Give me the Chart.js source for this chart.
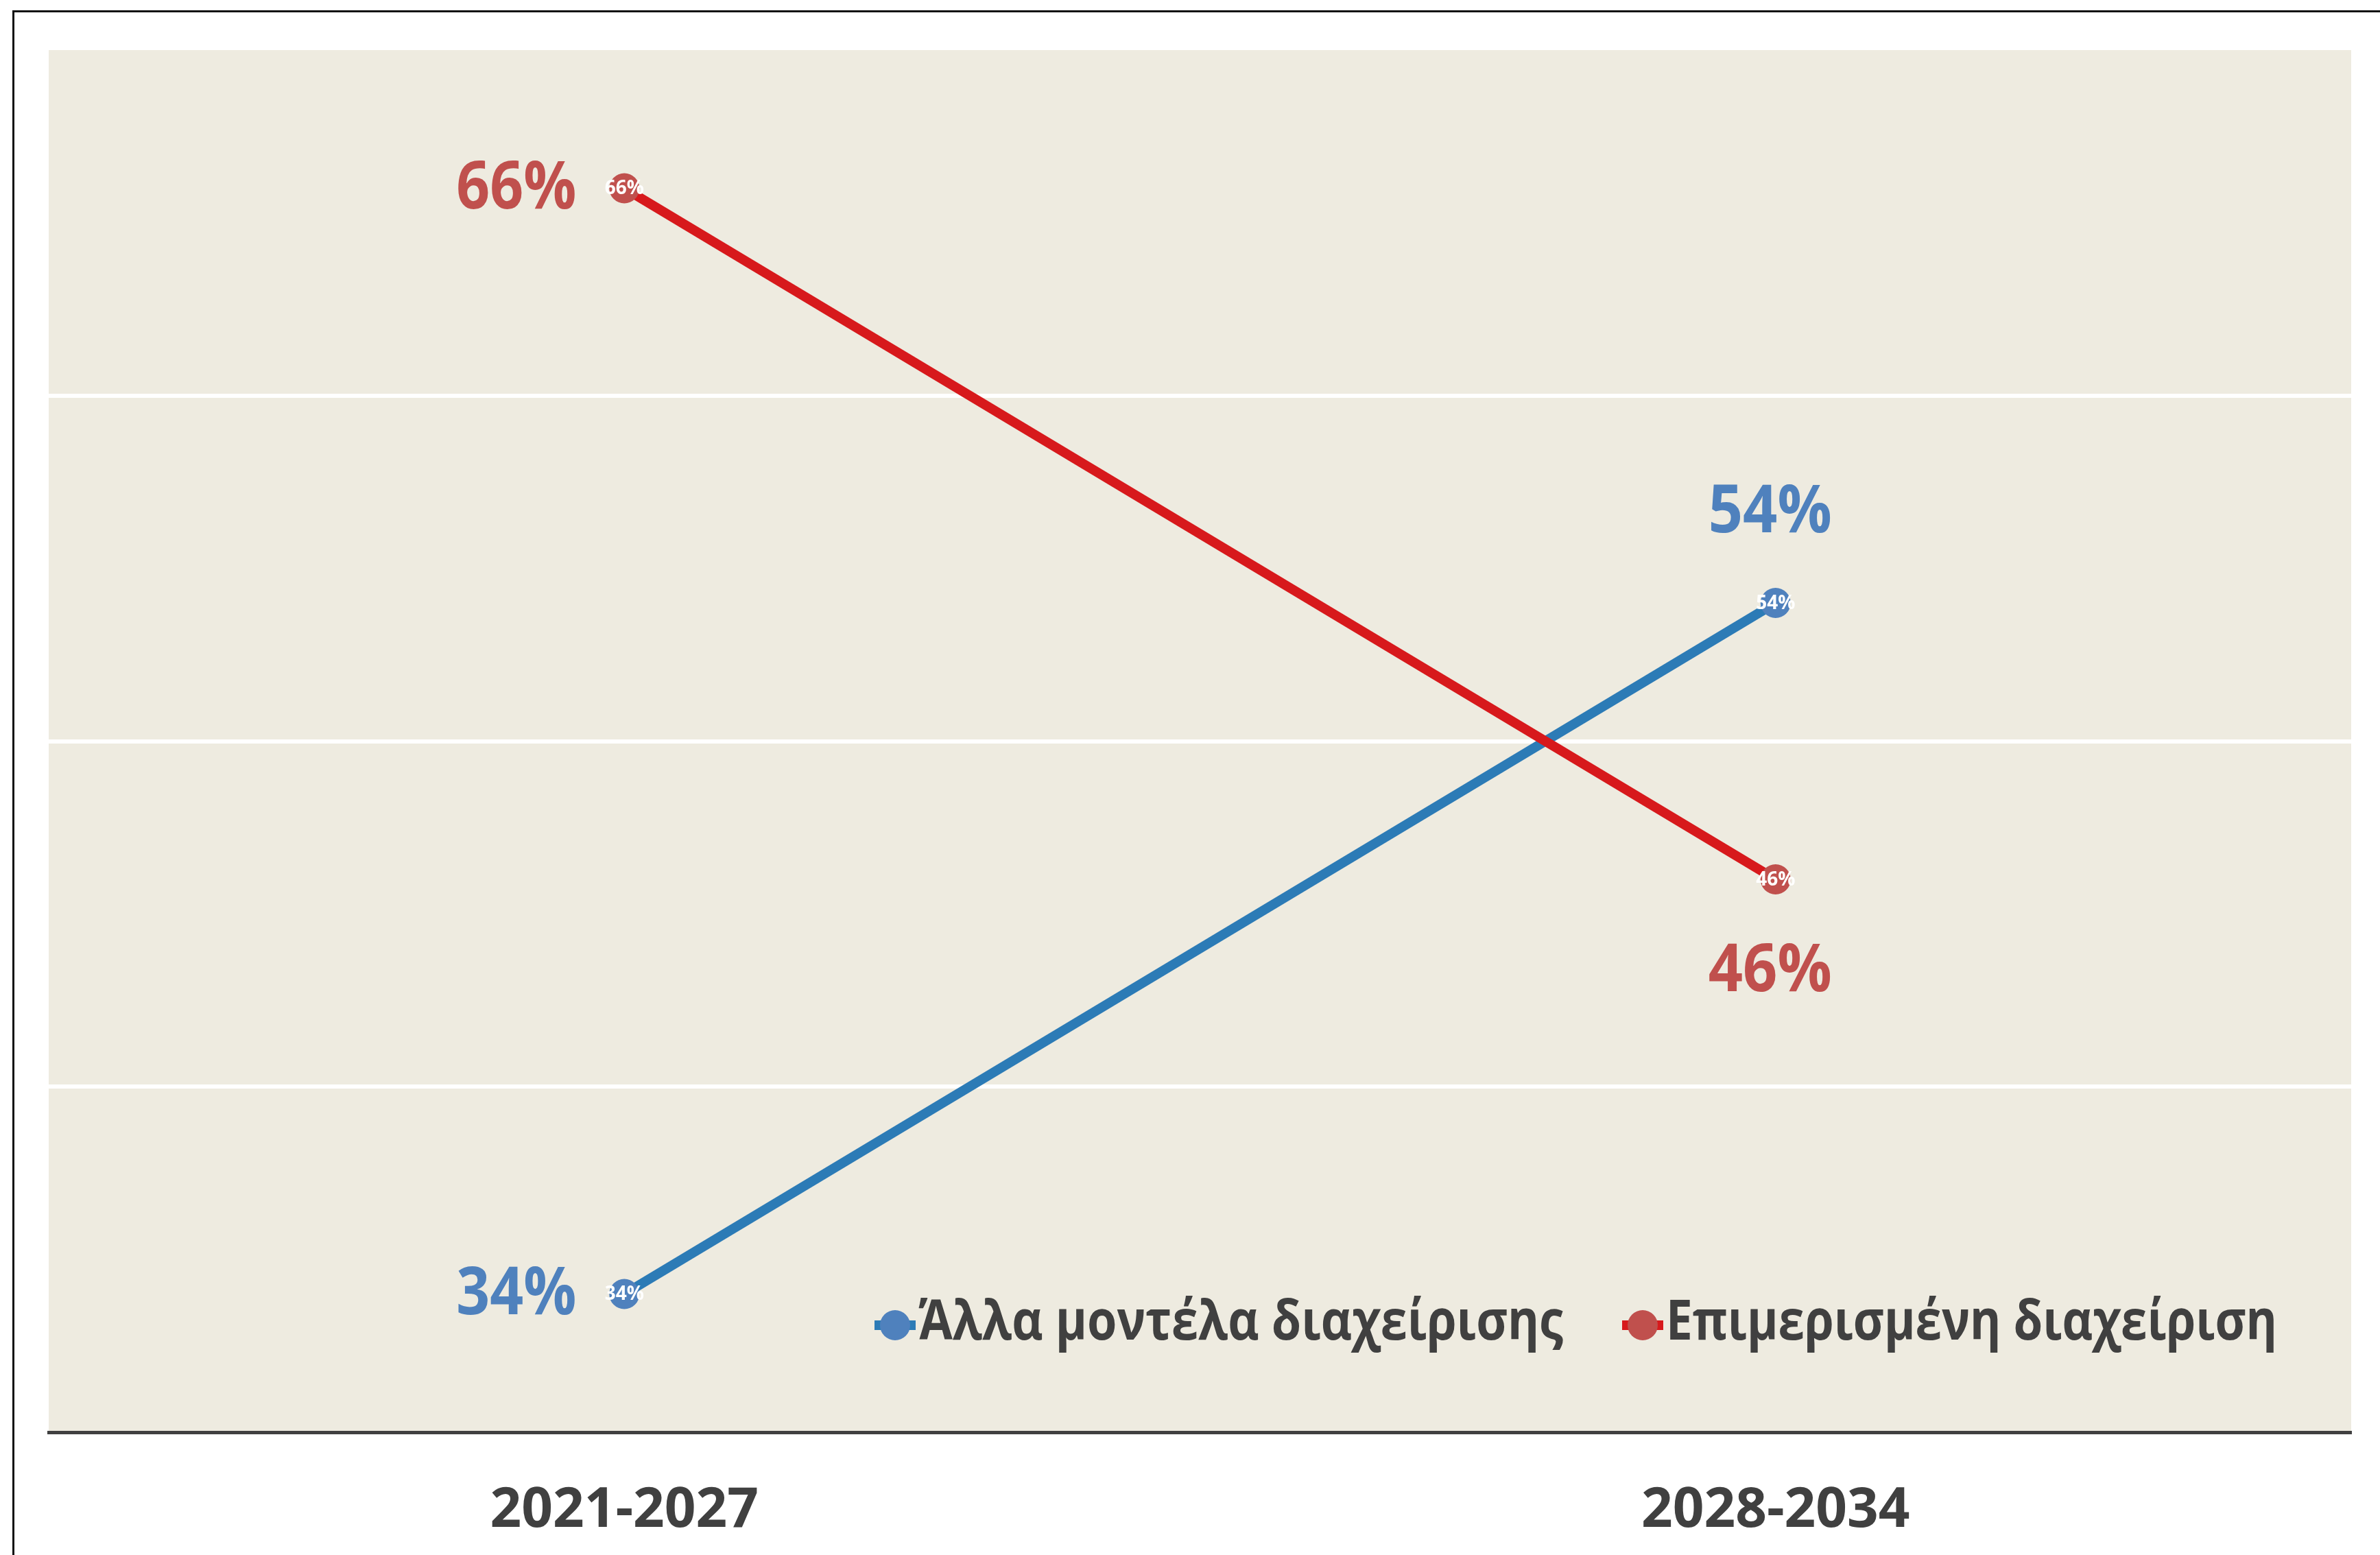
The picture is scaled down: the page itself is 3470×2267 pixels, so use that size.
<!DOCTYPE html>
<html>
<head>
<meta charset="utf-8">
<script src="https://cdn.jsdelivr.net/npm/chart.js@4.4.1/dist/chart.umd.min.js"></script>
<style>
  html, body { margin: 0; padding: 0; background: #fff; }
  #wrap { position: relative; width: 3470px; height: 2267px; overflow: hidden; }
  #frame { position: absolute; left: 18px; top: 15px; width: 3460px; height: 2260px;
           border-left: 3px solid #111; border-top: 3px solid #111; pointer-events: none; }
  canvas { position: absolute; left: 0; top: 0; }
</style>
</head>
<body>
<div id="wrap">
  <canvas id="mainChart" width="3470" height="2267"></canvas>
  <div id="frame"></div>
</div>
<script>
// chart data
const periods = ['2021-2027', '2028-2034'];
const otherModels = [34, 54];
const sharedManagement = [66, 46];
const seriesNames = ['Άλλα μοντέλα διαχείρισης', 'Επιμερισμένη διαχείριση'];
const yTicks = [30, 40, 50, 60, 70];

const lineColors = ['#2C7BB6', '#D7191C'];
const pointColors = ['#4F81BD', '#C0504D'];
const textGrey = '#404040';
const FONT = '"Open Sans", "DejaVu Sans", sans-serif';

// beige plot background
const plotBackground = {
  id: 'plotBackground',
  beforeDraw(chart) {
    const { ctx, chartArea } = chart;
    ctx.save();
    ctx.fillStyle = '#EEEBE0';
    ctx.fillRect(chartArea.left, chartArea.top, chartArea.right - chartArea.left, chartArea.bottom - chartArea.top);
    ctx.restore();
  }
};

// value labels: small white text on the markers + big coloured labels
const valueLabels = {
  id: 'valueLabels',
  afterDatasetsDraw(chart) {
    const { ctx } = chart;
    const data = chart.data.datasets.map(d => d.data);
    ctx.save();
    chart.data.datasets.forEach((ds, di) => {
      const meta = chart.getDatasetMeta(di);
      meta.data.forEach((pt, i) => {
        const txt = ds.data[i] + '%';
        // inside the marker
        ctx.font = 'bold 28px ' + FONT;
        ctx.fillStyle = '#fff';
        ctx.textAlign = 'center';
        ctx.textBaseline = 'middle';
        ctx.fillText(txt, pt.x, pt.y + 1);

        // big label
        ctx.font = 'bold 96px ' + FONT;
        ctx.fillStyle = pointColors[di];
        if (i === 0) {
          ctx.textAlign = 'right';
          ctx.fillText(txt, pt.x - 70, pt.y + 2, 175);
        } else {
          const other = data[1 - di][i];
          ctx.textAlign = 'center';
          const dy = ds.data[i] >= other ? -130 : 136;
          ctx.fillText(txt, pt.x - 8, pt.y + dy, 180);
        }
      });
    });
    ctx.restore();
  }
};

// legend inside the plot, bottom right
const insideLegend = {
  id: 'insideLegend',
  afterDraw(chart) {
    const { ctx, chartArea } = chart;
    const y = chartArea.bottom - 156;
    const items = [
      { x: 1305, width: 940 },
      { x: 2395, width: 891 }
    ];
    ctx.save();
    items.forEach((it, di) => {
      ctx.strokeStyle = lineColors[di];
      ctx.lineWidth = 14;
      ctx.beginPath();
      ctx.moveTo(it.x - 30, y);
      ctx.lineTo(it.x + 30, y);
      ctx.stroke();
      ctx.fillStyle = pointColors[di];
      ctx.beginPath();
      ctx.arc(it.x, y, 22, 0, Math.PI * 2);
      ctx.fill();
      ctx.font = 'bold 80px ' + FONT;
      ctx.fillStyle = textGrey;
      ctx.textAlign = 'left';
      ctx.textBaseline = 'middle';
      ctx.fillText(seriesNames[di], it.x + 34, y - 2, it.width);
    });
    ctx.restore();
  }
};

const ctx = document.getElementById('mainChart').getContext('2d');

new Chart(ctx, {
  type: 'line',
  data: {
    labels: periods,
    datasets: [
      {
        label: seriesNames[0],
        data: otherModels,
        borderColor: lineColors[0],
        borderWidth: 14,
        pointBackgroundColor: pointColors[0],
        pointBorderWidth: 0,
        pointRadius: 22,
        order: 1,
      },
      {
        label: seriesNames[1],
        data: sharedManagement,
        borderColor: lineColors[1],
        borderWidth: 14,
        pointBackgroundColor: pointColors[1],
        pointBorderWidth: 0,
        pointRadius: 22,
        order: 0,
      },
    ],
  },
  options: {
    responsive: false,
    animation: false,
    devicePixelRatio: 1,
    layout: {
      padding: { left: 71, top: 73, right: 42, bottom: 0 },
    },
    plugins: {
      legend: { display: false },
      tooltip: { enabled: false },
    },
    scales: {
      x: {
        offset: true,
        grid: { display: false, drawTicks: false },
        border: { color: textGrey, width: 5 },
        ticks: {
          color: textGrey,
          padding: 67,
          font: { family: FONT, size: 80, weight: 'bold' },
        },
        afterFit: (scale) => { scale.height = 179; },
      },
      y: {
        min: yTicks[0],
        max: yTicks[yTicks.length - 1],
        afterBuildTicks: (scale) => { scale.ticks = yTicks.map(v => ({ value: v })); },
        ticks: { display: false },
        border: { display: false },
        grid: {
          drawTicks: false,
          lineWidth: 6,
          color: (c) => (c.tick && (c.tick.value === yTicks[0] || c.tick.value === yTicks[yTicks.length - 1])) ? 'rgba(0,0,0,0)' : '#ffffff',
        },
      },
    },
  },
  plugins: [plotBackground, valueLabels, insideLegend],
});
</script>
</body>
</html>
